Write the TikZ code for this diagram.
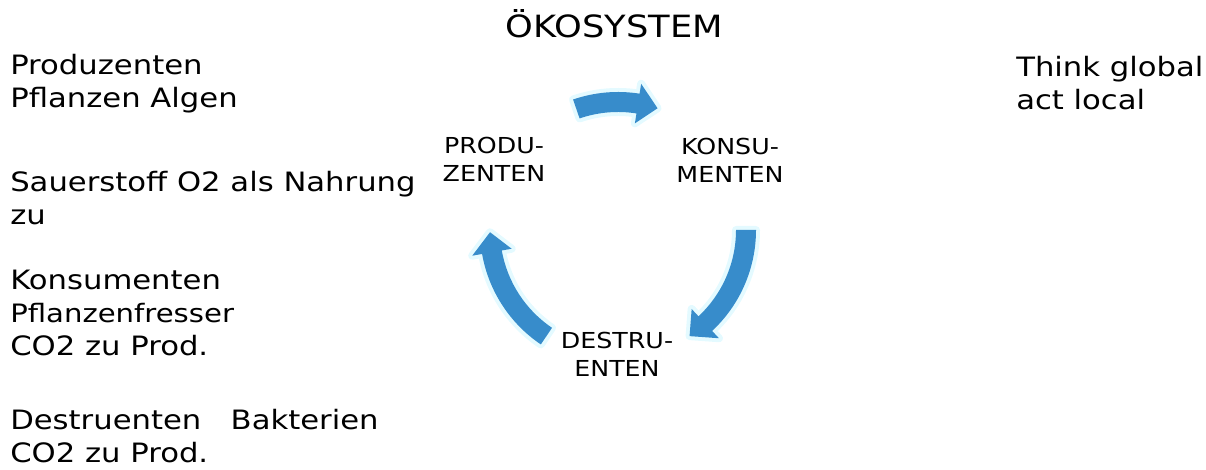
\documentclass[tikz,border=0pt]{standalone}
\usepackage{fontspec}
\setmainfont{DejaVu Sans}[FakeStretch=1.15]

\definecolor{cycleblue}{RGB}{55,140,203}
\definecolor{cycleglow}{RGB}{228,250,255}

\tikzset{
  notes/.style={anchor=base west, inner sep=0pt, align=left, font=\fontsize{20}{24.75}\selectfont},
  stage/.style={anchor=base, inner sep=0pt, align=center, font=\fontsize{16.5}{21.5}\selectfont},
  cyclearrow/.style={fill=cycleblue, preaction={draw=cycleglow, line width=6pt, line join=round}}
}

% band arrow round (hub), clockwise from angle #1 to angle #2
\newcommand{\cyclearc}[2]{%
  \path[cyclearrow] ([shift={(hub)}]#1:138) arc[start angle=#1, end angle=#2+9, radius=138]
    -- ([shift={(hub)}]#2+9:148) -- ([shift={(hub)}]#2:128) -- ([shift={(hub)}]#2+9:108)
    -- ([shift={(hub)}]#2+9:118) arc[start angle=#2+9, end angle=#1, radius=118] -- cycle;}

\begin{document}
\begin{tikzpicture}[x=0.75pt, y=0.75pt]
\useasboundingbox (0,0) rectangle (1206,470);

\coordinate (hub) at (618,240);
\cyclearc{109}{72}
\cyclearc{0}{-56}
\cyclearc{236}{181}

\node[anchor=base, inner sep=0pt, font=\fontsize{23}{28}\selectfont] (title) at (614.5,432) {ÖKOSYSTEM};

% multi-line nodes: base is the last line
\node[stage] (prod) at (494,288) {PRODU-\\ZENTEN};
\node[stage] (kons) at (730,287) {KONSU-\\MENTEN};
\node[stage] (dest) at (617,93) {DESTRU-\\ENTEN};

\node[notes] (n1) at (10,362) {Produzenten\\Pflanzen Algen};
\node[notes] (n2) at (10,245) {Sauerstoff O2 als Nahrung\\zu};
\node[notes] (n3) at (10,114) {Konsumenten\\{\fontsize{19}{24.75}\selectfont Pflanzenfresser}\\CO2 zu Prod.};
\node[notes] (n4) at (10,7) {Destruenten\hspace{1.1em}Bakterien\\CO2 zu Prod.};
\node[notes] (n5) at (1016,360) {Think global\\act local};
\end{tikzpicture}
\end{document}
